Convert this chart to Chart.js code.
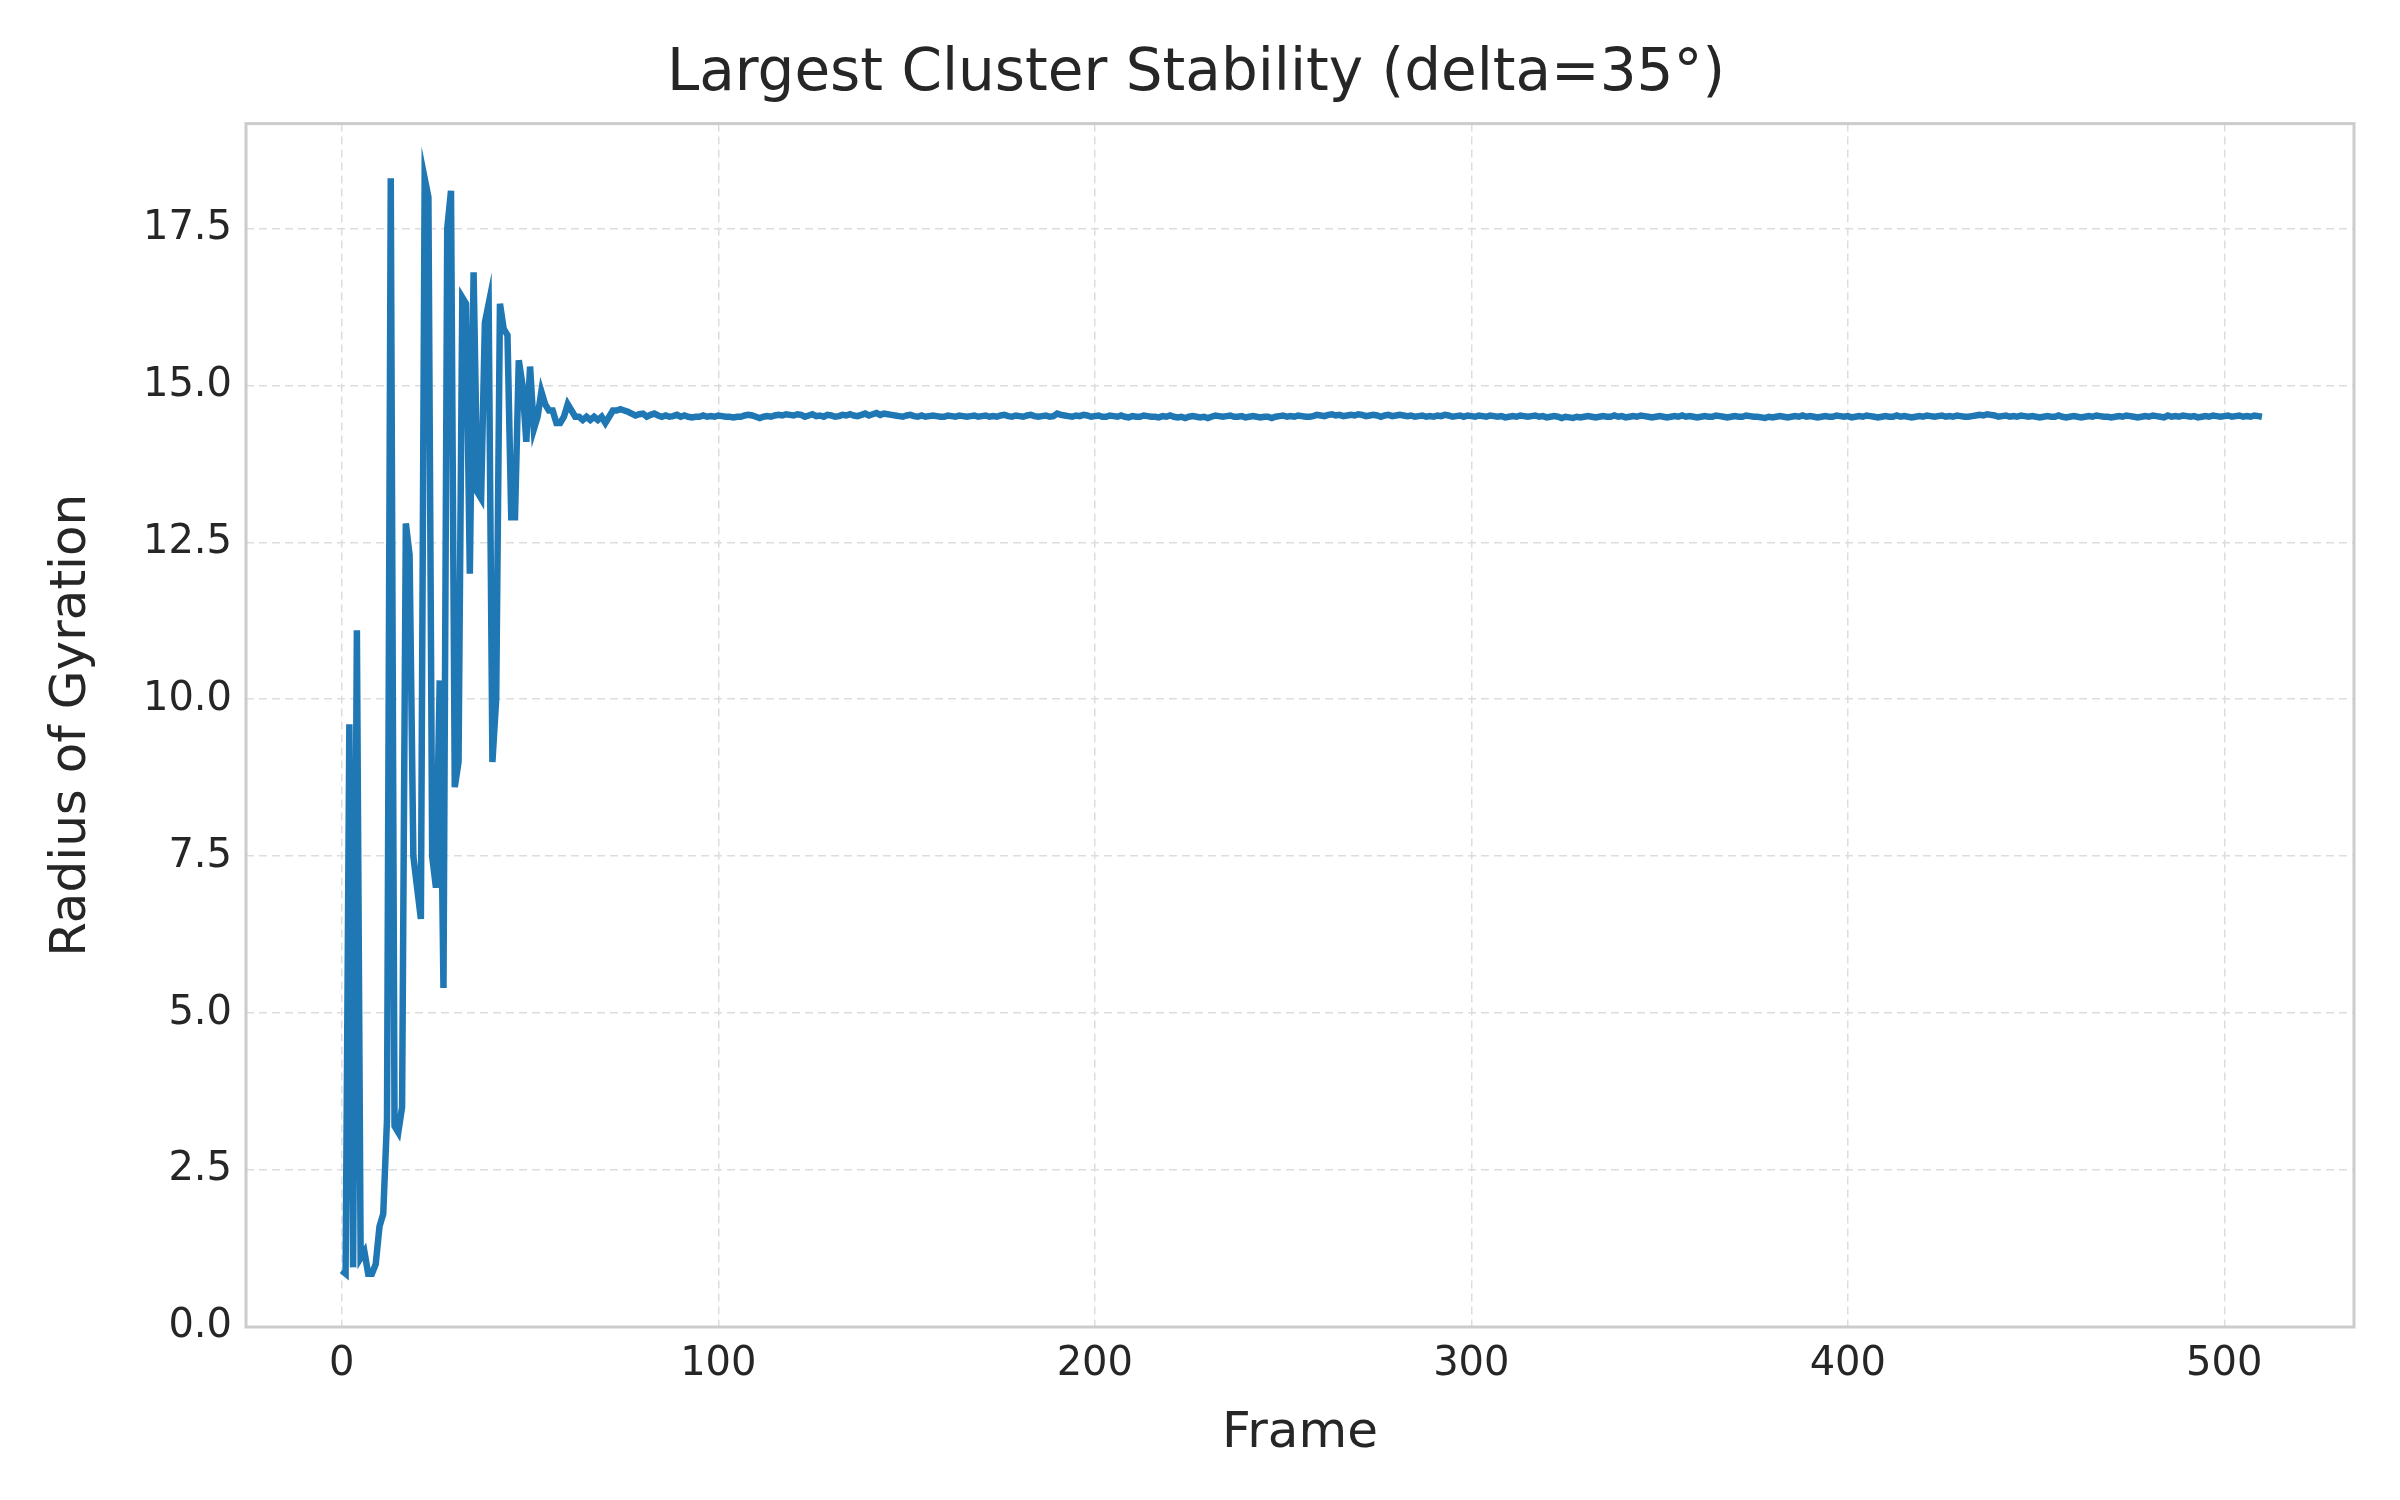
<!DOCTYPE html>
<html>
<head>
<meta charset="utf-8">
<script src="https://cdn.jsdelivr.net/npm/chart.js@4"></script>
<style>
  html, body { margin: 0; padding: 0; background: #fff; }
  #wrap { width: 2400px; height: 1500px; }
</style>
</head>
<body>
<div id="wrap"><canvas id="rgChart" width="2400" height="1500"></canvas></div>
<script>
// Radius of gyration per frame
const earlyRg = [
  0.9, 0.85, 9.6, 0.95, 11.1, 1.1, 1.2, 0.85, 0.85, 1.0,
  1.6, 1.8, 3.3, 18.3, 3.2, 3.1, 3.5, 12.8, 12.3, 7.5,
  7.0, 6.5, 18.3, 18.0, 7.5, 7.0, 10.3, 5.4, 17.5, 18.1,
  8.6, 9.0, 16.4, 16.3, 12.0, 16.8, 13.3, 13.2, 16.0, 16.3,
  9.0, 10.0, 16.3, 15.9, 15.8, 12.9, 12.9, 15.4, 15.0, 14.1,
  15.3, 14.3, 14.5, 14.9, 14.7, 14.6, 14.6, 14.4, 14.4, 14.5,
  14.7, 14.6, 14.5, 14.5, 14.45, 14.5, 14.45, 14.5, 14.45, 14.5,
  14.4, 14.5, 14.6
];
const stableRg = [
  14.6, 14.62, 14.6, 14.58, 14.55, 14.52, 14.54, 14.55, 14.5, 14.53, 14.55, 14.52, 14.5, 14.52, 14.5, 14.51, 14.53, 14.5, 14.52, 14.5, 14.49, 14.5, 14.5,
  14.52, 14.5, 14.51, 14.5, 14.52, 14.51, 14.5, 14.5, 14.49, 14.5, 14.5, 14.52, 14.53, 14.52, 14.5, 14.48, 14.5, 14.51, 14.5, 14.52, 14.53, 14.52, 14.54, 14.53,
  14.52, 14.54, 14.53, 14.5, 14.52, 14.54, 14.51, 14.52, 14.5, 14.53, 14.52, 14.5, 14.51, 14.53, 14.52, 14.54, 14.52, 14.51, 14.53, 14.55, 14.52, 14.54, 14.56,
  14.53, 14.55, 14.54, 14.53, 14.52, 14.51, 14.5, 14.52, 14.53, 14.51, 14.5, 14.52, 14.5, 14.51, 14.52, 14.51, 14.5, 14.5, 14.52, 14.51, 14.5, 14.52, 14.51,
  14.5, 14.51, 14.52, 14.5, 14.51, 14.52, 14.5, 14.51, 14.5, 14.52, 14.53, 14.51, 14.5, 14.52, 14.51, 14.5, 14.52, 14.53, 14.51, 14.5, 14.51, 14.52, 14.5,
  14.51, 14.55, 14.53, 14.52, 14.51, 14.5, 14.52, 14.51, 14.53, 14.52, 14.5, 14.51, 14.52, 14.5, 14.5, 14.52, 14.51, 14.5, 14.52, 14.5, 14.49, 14.51, 14.5,
  14.5, 14.52, 14.51, 14.5, 14.5, 14.49, 14.51, 14.5, 14.52, 14.5, 14.49, 14.5, 14.48, 14.5, 14.51, 14.5, 14.49, 14.5, 14.48, 14.5, 14.52, 14.51, 14.5,
  14.51, 14.52, 14.5, 14.5, 14.51, 14.49, 14.5, 14.51, 14.5, 14.49, 14.5, 14.5, 14.48, 14.5, 14.51, 14.52, 14.5, 14.51, 14.5, 14.52, 14.51, 14.5, 14.5,
  14.51, 14.53, 14.52, 14.51, 14.53, 14.54, 14.52, 14.53, 14.51, 14.52, 14.53, 14.52, 14.54, 14.53, 14.51, 14.52, 14.53, 14.52, 14.5, 14.52, 14.53, 14.51, 14.52,
  14.53, 14.52, 14.51, 14.52, 14.5, 14.51, 14.52, 14.5, 14.51, 14.5, 14.52, 14.51, 14.53, 14.52, 14.5, 14.51, 14.52, 14.5, 14.52, 14.51, 14.5, 14.52, 14.51,
  14.5, 14.52, 14.51, 14.5, 14.51, 14.49, 14.5, 14.51, 14.5, 14.52, 14.51, 14.5, 14.51, 14.52, 14.5, 14.51, 14.49, 14.5, 14.51, 14.5, 14.48, 14.5, 14.49,
  14.48, 14.5, 14.49, 14.5, 14.51, 14.5, 14.49, 14.5, 14.51, 14.5, 14.5, 14.52, 14.5, 14.51, 14.49, 14.5, 14.51, 14.5, 14.52, 14.51, 14.5, 14.49, 14.5,
  14.51, 14.5, 14.49, 14.5, 14.51, 14.5, 14.52, 14.5, 14.51, 14.5, 14.49, 14.5, 14.51, 14.5, 14.5, 14.52, 14.51, 14.5, 14.49, 14.5, 14.51, 14.5, 14.5,
  14.52, 14.51, 14.5, 14.5, 14.49, 14.48, 14.5, 14.49, 14.5, 14.51, 14.5, 14.49, 14.5, 14.51, 14.5, 14.52, 14.5, 14.51, 14.5, 14.49, 14.5, 14.51, 14.5,
  14.5, 14.52, 14.51, 14.5, 14.51, 14.49, 14.5, 14.51, 14.5, 14.52, 14.51, 14.5, 14.49, 14.5, 14.51, 14.5, 14.5, 14.52, 14.5, 14.51, 14.5, 14.49, 14.5,
  14.51, 14.5, 14.52, 14.51, 14.5, 14.51, 14.52, 14.5, 14.51, 14.5, 14.52, 14.51, 14.5, 14.5, 14.51, 14.52, 14.53, 14.52, 14.54, 14.53, 14.52, 14.5, 14.51,
  14.52, 14.5, 14.51, 14.5, 14.52, 14.51, 14.5, 14.51, 14.5, 14.49, 14.5, 14.51, 14.5, 14.5, 14.52, 14.5, 14.49, 14.5, 14.51, 14.5, 14.49, 14.5, 14.51,
  14.5, 14.52, 14.51, 14.5, 14.5, 14.49, 14.5, 14.51, 14.5, 14.52, 14.51, 14.5, 14.49, 14.5, 14.51, 14.5, 14.52, 14.51, 14.5, 14.49, 14.52, 14.5, 14.51,
  14.5, 14.52, 14.51, 14.5, 14.51, 14.49, 14.5, 14.51, 14.5, 14.52, 14.51, 14.5, 14.51, 14.52, 14.5, 14.51, 14.52, 14.5, 14.51, 14.5, 14.52, 14.51, 14.5
];
const rgValues = earlyRg.concat(stableRg);
const xTicks = [0, 100, 200, 300, 400, 500];
const yTicks = [0, 2.5, 5, 7.5, 10, 12.5, 15, 17.5];

const points = rgValues.map((v, i) => ({ x: i, y: v }));

// box around the whole plot area, like the matplotlib frame
const frameBox = {
  id: 'frameBox',
  afterDraw(chart) {
    const a = chart.chartArea, ctx = chart.ctx;
    ctx.save();
    ctx.strokeStyle = '#cccccc';
    ctx.lineWidth = 3;
    ctx.strokeRect(a.left, a.top, a.right - a.left, a.bottom - a.top);
    ctx.restore();
  }
};

const gridOpts = {
  color: '#dddddd',
  lineWidth: 1.5,
  drawTicks: false
};

const config = {
  type: 'line',
  data: {
    datasets: [{
      data: points,
      borderColor: '#1f77b4',
      borderWidth: 6.5,
      pointRadius: 0,
      tension: 0,
      fill: false
    }]
  },
  options: {
    responsive: false,
    animation: false,
    layout: { padding: { left: 38, right: 46, top: 0, bottom: 32 } },
    plugins: {
      legend: { display: false },
      tooltip: { enabled: false },
      title: {
        display: true,
        text: 'Largest Cluster Stability (delta=35°)',
        color: '#262626',
        font: { family: 'DejaVu Sans', size: 58, weight: 'normal' },
        padding: { top: 40, bottom: 14 }
      }
    },
    scales: {
      x: {
        type: 'linear',
        min: -25.45,
        max: 534.45,
        grid: gridOpts,
        border: { display: false, dash: [8, 5] },
        afterBuildTicks: s => { s.ticks = xTicks.map(v => ({ value: v })); },
        ticks: {
          color: '#262626',
          padding: 14,
          font: { family: 'DejaVu Sans', size: 40 }
        },
        title: {
          display: true,
          text: 'Frame',
          color: '#262626',
          font: { family: 'DejaVu Sans', size: 50 },
          padding: { top: 0 }
        },
        afterFit: s => { s.height = 141; }
      },
      y: {
        min: 0,
        max: 19.17,
        grid: gridOpts,
        border: { display: false, dash: [8, 5] },
        afterBuildTicks: s => { s.ticks = yTicks.map(v => ({ value: v })); },
        ticks: {
          color: '#262626',
          padding: 14,
          font: { family: 'DejaVu Sans', size: 40 },
          callback: v => v.toFixed(1)
        },
        title: {
          display: true,
          text: 'Radius of Gyration',
          color: '#262626',
          font: { family: 'DejaVu Sans', size: 50 },
          padding: { bottom: 10 }
        },
        afterFit: s => { s.width = 208; }
      }
    }
  },
  plugins: [frameBox]
};

try {
  const ctx = document.getElementById('rgChart').getContext('2d');
  new Chart(ctx, config);
} catch (error) {
  console.error('Error rendering the chart:', error);
}
</script>
</body>
</html>
